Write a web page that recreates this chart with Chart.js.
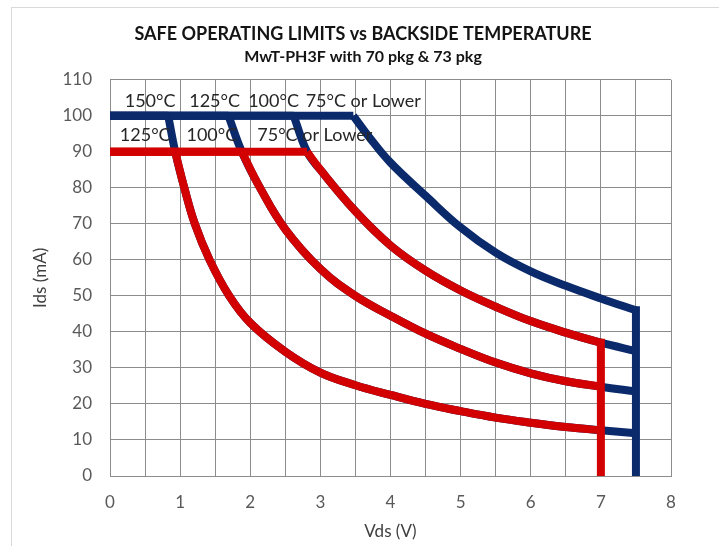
<!DOCTYPE html>
<html>
<head>
<meta charset="utf-8">
<script src="https://cdn.jsdelivr.net/npm/chart.js@4.4.0/dist/chart.umd.min.js"></script>
<style>
  body { margin: 0; background: #fff; }
</style>
</head>
<body>
<canvas id="soaChart" width="719" height="546"></canvas>
<script>
// navy limits (upper family, capped at 100 mA); first two points are the flat cap
const navy150Vds = [0, 0.83, 0.93, 1.06, 1.21, 1.42, 1.7, 2.0, 2.5, 3.0, 3.5, 4.0, 4.5, 5.0, 5.5, 6.0, 6.5, 7.0, 7.5];
const navy150Ids = [100, 100, 90, 80, 70, 60, 50, 42.5, 34.5, 28.7, 25.2, 22.5, 20, 18, 16.2, 14.8, 13.6, 12.7, 11.9];
const navy125Vds = [0, 1.69, 1.88, 2.14, 2.5, 3.0, 3.5, 4.0, 4.5, 5.0, 5.5, 6.0, 6.5, 7.0, 7.5];
const navy125Ids = [100, 100, 90, 80, 68.5, 57.5, 50, 44.5, 39.5, 35.3, 31.5, 28.5, 26.3, 24.8, 23.5];
const navy100Vds = [0, 2.62, 2.81, 3.0, 3.5, 4.0, 4.5, 5.0, 5.5, 6.0, 6.5, 7.0, 7.5];
const navy100Ids = [100, 100, 90, 85, 73.5, 64, 57, 51.5, 47, 43, 39.8, 37, 34.7];
const navy75Vds = [0, 3.47, 3.7, 4.0, 4.5, 5.0, 5.5, 6.0, 6.5, 7.0, 7.5];
const navy75Ids = [100, 100, 94, 87, 77.8, 69, 62, 56.8, 52.8, 49.3, 46];
const navyEndVds = [7.5, 7.5];
const navyEndIds = [0, 46];

// red limits (lower family, capped at 90 mA)
const red125Vds = [0, 0.93, 1.06, 1.21, 1.42, 1.7, 2.0, 2.5, 3.0, 3.5, 4.0, 4.5, 5.0, 5.5, 6.0, 6.5, 7.0];
const red125Ids = [90, 90, 80, 70, 60, 50, 42.5, 34.5, 28.7, 25.2, 22.5, 20, 18, 16.2, 14.8, 13.6, 12.7];
const red100Vds = [0, 1.88, 2.14, 2.5, 3.0, 3.5, 4.0, 4.5, 5.0, 5.5, 6.0, 6.5, 7.0];
const red100Ids = [90, 90, 80, 68.5, 57.5, 50, 44.5, 39.5, 35.3, 31.5, 28.5, 26.3, 24.8];
const red75Vds = [0, 2.81, 3.0, 3.5, 4.0, 4.5, 5.0, 5.5, 6.0, 6.5, 7.0];
const red75Ids = [90, 90, 85, 73.5, 64, 57, 51.5, 47, 43, 39.8, 37];
const redEndVds = [7, 7];
const redEndIds = [0, 37];

// curve labels: text, x (V), y (mA)
const curveLabels = [
    ['150°C', 0.21, 104], ['125°C', 1.13, 104], ['100°C', 1.97, 104], ['75°C or Lower', 2.79, 104],
    ['125°C', 0.14, 94.5], ['100°C', 1.09, 94.5], ['75°C or Lower', 2.1, 94.5]
];

const NAVY = '#0b2a6c';
const RED = '#d20000';
const FONT = 'Lato';

function pts(xs, ys) {
    return xs.map((x, i) => ({ x: x, y: ys[i] }));
}

function line(data, color, tension) {
    return {
        data: data,
        borderColor: color,
        borderWidth: 8,
        pointRadius: 0,
        tension: tension,
        borderJoinStyle: 'round',
        fill: false
    };
}

// flat cap + smoothed fall-off, as two datasets so the knee stays sharp
function limit(xs, ys, color) {
    const all = pts(xs, ys);
    return [line(all.slice(0, 2), color, 0), line(all.slice(1), color, 0.4)];
}

function edge(xs, ys, color) {
    const ds = line(pts(xs, ys), color, 0);
    ds.borderCapStyle = 'square';
    return ds;
}

const frame = {
    id: 'frame',
    beforeDraw(chart) {
        const ctx = chart.ctx;
        ctx.save();
        ctx.fillStyle = '#fff';
        ctx.fillRect(0, 0, chart.width, chart.height);
        ctx.strokeStyle = '#d9d9d9';
        ctx.lineWidth = 1;
        ctx.strokeRect(11.5, 7.5, 760, 600);
        ctx.restore();
    }
};

const labelPlugin = {
    id: 'curveLabels',
    afterDatasetsDraw(chart) {
        const ctx = chart.ctx;
        const xs = chart.scales.x, ys = chart.scales.y;
        ctx.save();
        ctx.font = '18px ' + FONT;
        ctx.fillStyle = '#262626';
        ctx.textBaseline = 'middle';
        curveLabels.forEach(l => {
            ctx.fillText(l[0], xs.getPixelForValue(l[1]), ys.getPixelForValue(l[2]));
        });
        ctx.restore();
    }
};

new Chart(document.getElementById('soaChart').getContext('2d'), {
    type: 'line',
    data: {
        datasets: [
            edge(redEndVds, redEndIds, RED),
            ...limit(red125Vds, red125Ids, RED),
            ...limit(red100Vds, red100Ids, RED),
            ...limit(red75Vds, red75Ids, RED),
            edge(navyEndVds, navyEndIds, NAVY),
            ...limit(navy150Vds, navy150Ids, NAVY),
            ...limit(navy125Vds, navy125Ids, NAVY),
            ...limit(navy100Vds, navy100Ids, NAVY),
            ...limit(navy75Vds, navy75Ids, NAVY)
        ]
    },
    options: {
        responsive: false,
        animation: false,
        layout: { padding: { left: 7, right: 0, top: 0, bottom: 0 } },
        plugins: {
            legend: { display: false },
            tooltip: { enabled: false },
            title: {
                display: true,
                text: 'SAFE OPERATING LIMITS vs BACKSIDE TEMPERATURE',
                color: '#141414',
                font: { family: FONT, size: 18, weight: 'bold' },
                padding: { top: 23, bottom: 3 }
            },
            subtitle: {
                display: true,
                text: 'MwT-PH3F with 70 pkg & 73 pkg',
                color: '#141414',
                font: { family: FONT, size: 16, weight: 'bold' },
                padding: { top: 0, bottom: 13 }
            }
        },
        scales: {
            x: {
                type: 'linear',
                min: 0,
                max: 8,
                afterFit: s => { s.height = 70; },
                ticks: {
                    stepSize: 0.5,
                    autoSkip: false,
                    maxRotation: 0,
                    padding: 16,
                    color: '#595959',
                    font: { family: FONT, size: 17 },
                    callback: v => Number.isInteger(v) ? v : ''
                },
                grid: { color: '#8c8c8c', drawTicks: false },
                border: { color: '#8c8c8c' },
                title: {
                    display: true,
                    text: 'Vds (V)',
                    color: '#404040',
                    font: { family: FONT, size: 17 },
                    padding: { top: 0, bottom: 4 }
                }
            },
            y: {
                min: 0,
                max: 110,
                afterFit: s => { s.width = 103; },
                ticks: {
                    stepSize: 10,
                    padding: 18,
                    color: '#595959',
                    font: { family: FONT, size: 17 }
                },
                grid: { color: '#8c8c8c', drawTicks: false },
                border: { color: '#8c8c8c' },
                title: {
                    display: true,
                    text: 'Ids (mA)',
                    color: '#404040',
                    font: { family: FONT, size: 17 },
                    padding: { top: 23, bottom: 0 }
                }
            },
            // empty right-hand box that keeps the plot clear of the right edge
            yRight: {
                position: 'right',
                min: 0,
                max: 110,
                afterFit: s => { s.width = 48; },
                ticks: { display: false },
                grid: { display: false },
                border: { display: false }
            }
        }
    },
    plugins: [frame, labelPlugin]
});
</script>
</body>
</html>
